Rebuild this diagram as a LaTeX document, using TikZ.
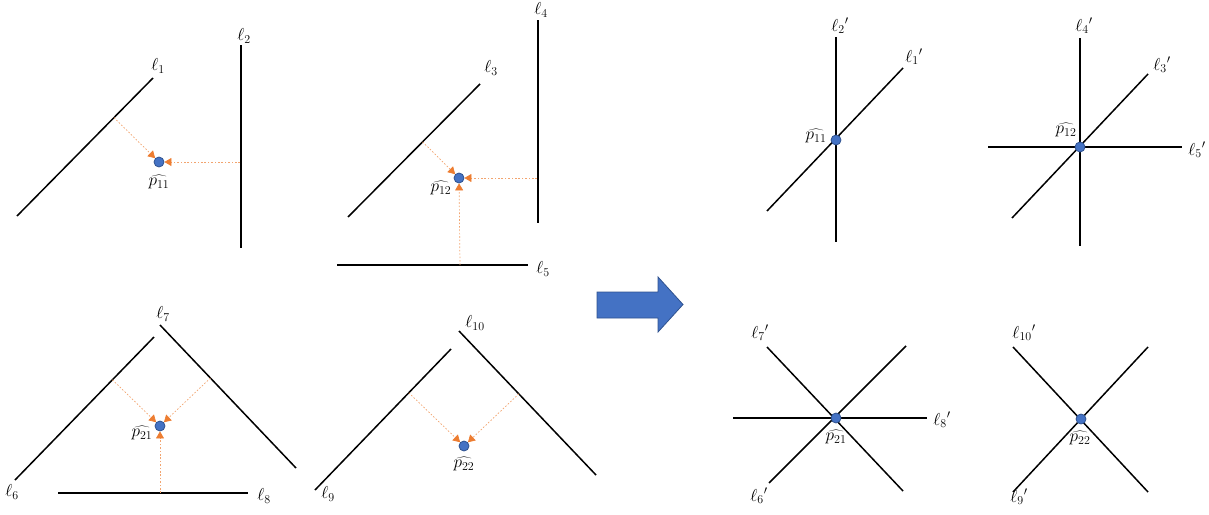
\documentclass[tikz,border=0pt]{standalone}
\usetikzlibrary{calc,arrows.meta}
\definecolor{ptblue}{HTML}{4472C4}
\definecolor{ptedge}{HTML}{2F528F}
\definecolor{orng}{HTML}{ED7D31}
\tikzset{
  ln/.style={black,line width=1.5pt},
  proj/.style={draw=orng!70,line width=0.7pt,dash pattern=on 1.6pt off 1.8pt,
    -{Triangle[length=7pt,width=8pt,color=orng,fill=orng]}},
  pt/.style={circle,fill=ptblue,draw=ptedge,line width=0.8pt,minimum size=10pt,inner sep=0pt},
  lab/.style={inner sep=1pt,font=\LARGE},
  blk/.style={fill=ptblue,draw=ptedge,line width=0.8pt}
}
\begin{document}
\begin{tikzpicture}[x=1pt,y=-1pt]
\useasboundingbox (0,0) rectangle (1209,514);
% ---------- panel 1 ----------
\coordinate (a1) at (17,216); \coordinate (b1) at (153,78);
\coordinate (a2) at (241,45); \coordinate (b2) at (241,248);
\draw[ln] (a1) -- (b1);
\draw[ln] (a2) -- (b2);
\node[pt] (p11) at (159,162) {};
\node[lab] (l1) at (158,66) {$\ell_1$};
\node[lab] (l2) at (244,36) {$\ell_2$};
\node[lab] (q11) at (159,182) {$\widehat{p_{11}}$};
\coordinate (f11) at ($(a1)!(p11)!(b1)$);
\coordinate (f12) at (240,162);
\draw[proj] (f11) -- (p11);
\draw[proj] (f12) -- (p11);
% ---------- panel 2 ----------
\coordinate (a3) at (348,217); \coordinate (b3) at (480,84);
\coordinate (a4) at (538,20); \coordinate (b4) at (538,223);
\coordinate (a5) at (337,265); \coordinate (b5) at (528,265);
\draw[ln] (a3) -- (b3);
\draw[ln] (a4) -- (b4);
\draw[ln] (a5) -- (b5);
\node[pt] (p12) at (459,178) {};
\node[lab] (l3) at (491,68) {$\ell_3$};
\node[lab] (l4) at (541,10) {$\ell_4$};
\node[lab] (l5) at (543,269) {$\ell_5$};
\node[lab] (q12) at (441,188) {$\widehat{p_{12}}$};
\coordinate (f21) at ($(a3)!(p12)!(b3)$);
\coordinate (f22) at (537,178);
\coordinate (f23) at (460,265);
\draw[proj] (f21) -- (p12);
\draw[proj] (f22) -- (p12);
\draw[proj] (f23) -- (p12);
% ---------- panel 3 ----------
\coordinate (a6) at (15,480); \coordinate (b6) at (154,337);
\coordinate (a7) at (160,325); \coordinate (b7) at (296,468);
\coordinate (a8) at (58,493); \coordinate (b8) at (248,493);
\draw[ln] (a6) -- (b6);
\draw[ln] (a7) -- (b7);
\draw[ln] (a8) -- (b8);
\node[pt] (p21) at (160,426) {};
\node[lab] (l6) at (12,492) {$\ell_6$};
\node[lab] (l7) at (163,314) {$\ell_7$};
\node[lab] (l8) at (264,496) {$\ell_8$};
\node[lab] (q21) at (142,433) {$\widehat{p_{21}}$};
\coordinate (f31) at ($(a6)!(p21)!(b6)$);
\coordinate (f32) at ($(a7)!(p21)!(b7)$);
\coordinate (f33) at (160,493);
\draw[proj] (f31) -- (p21);
\draw[proj] (f32) -- (p21);
\draw[proj] (f33) -- (p21);
% ---------- panel 4 ----------
\coordinate (a9) at (315,490); \coordinate (b9) at (451,349);
\coordinate (a10) at (459,331); \coordinate (b10) at (596,475);
\draw[ln] (a9) -- (b9);
\draw[ln] (a10) -- (b10);
\node[pt] (p22) at (464,446) {};
\node[lab] (l9) at (328,494) {$\ell_9$};
\node[lab] (l10) at (475,323) {$\ell_{10}$};
\node[lab] (q22) at (464,464) {$\widehat{p_{22}}$};
\coordinate (f41) at ($(a9)!(p22)!(b9)$);
\coordinate (f42) at ($(a10)!(p22)!(b10)$);
\draw[proj] (f41) -- (p22);
\draw[proj] (f42) -- (p22);
% ---------- block arrow ----------
\draw[blk] (597,292) -- (658,292) -- (658,277) -- (683,304.5) -- (658,332) -- (658,318) -- (597,318) -- cycle;
% ---------- right panel 1 ----------
\coordinate (c1) at (767,211); \coordinate (d1) at (903,68);
\coordinate (c2) at (836,37); \coordinate (d2) at (836,242);
\draw[ln] (c1) -- (d1);
\draw[ln] (c2) -- (d2);
\node[pt] (r11) at (836,140) {};
\node[lab] (m2) at (840,26) {$\ell_2{}'$};
\node[lab] (m1) at (914,57) {$\ell_1{}'$};
\node[lab] (s11) at (816,136) {$\widehat{p_{11}}$};
% ---------- right panel 2 ----------
\coordinate (c3) at (1012,218); \coordinate (d3) at (1148,74);
\coordinate (c4) at (1080,38); \coordinate (d4) at (1080,246);
\coordinate (c5) at (988,147); \coordinate (d5) at (1182,147);
\draw[ln] (c3) -- (d3);
\draw[ln] (c4) -- (d4);
\draw[ln] (c5) -- (d5);
\node[pt] (r12) at (1080,147) {};
\node[lab] (m4) at (1084,26) {$\ell_4{}'$};
\node[lab] (m3) at (1162,65) {$\ell_3{}'$};
\node[lab] (m5) at (1197,150) {$\ell_5{}'$};
\node[lab] (s12) at (1066,130) {$\widehat{p_{12}}$};
% ---------- right panel 3 ----------
\coordinate (c7) at (767,347); \coordinate (d7) at (903,491);
\coordinate (c6) at (769,483); \coordinate (d6) at (906,346);
\coordinate (c8) at (733,418); \coordinate (d8) at (927,418);
\draw[ln] (c7) -- (d7);
\draw[ln] (c6) -- (d6);
\draw[ln] (c8) -- (d8);
\node[pt] (r21) at (836,418) {};
\node[lab] (m7) at (760,333) {$\ell_7{}'$};
\node[lab] (m6) at (759,496) {$\ell_6{}'$};
\node[lab] (m8) at (942,420) {$\ell_8{}'$};
\node[lab] (s21) at (836,437) {$\widehat{p_{21}}$};
% ---------- right panel 4 ----------
\coordinate (c10) at (1013,347); \coordinate (d10) at (1148,492);
\coordinate (c9) at (1013,492); \coordinate (d9) at (1148,347);
\draw[ln] (c10) -- (d10);
\draw[ln] (c9) -- (d9);
\node[pt] (r22) at (1081,419) {};
\node[lab] (m10) at (1024,333) {$\ell_{10}{}'$};
\node[lab] (m9) at (1019,497) {$\ell_9{}'$};
\node[lab] (s22) at (1080,438) {$\widehat{p_{22}}$};
\end{tikzpicture}
\end{document}
